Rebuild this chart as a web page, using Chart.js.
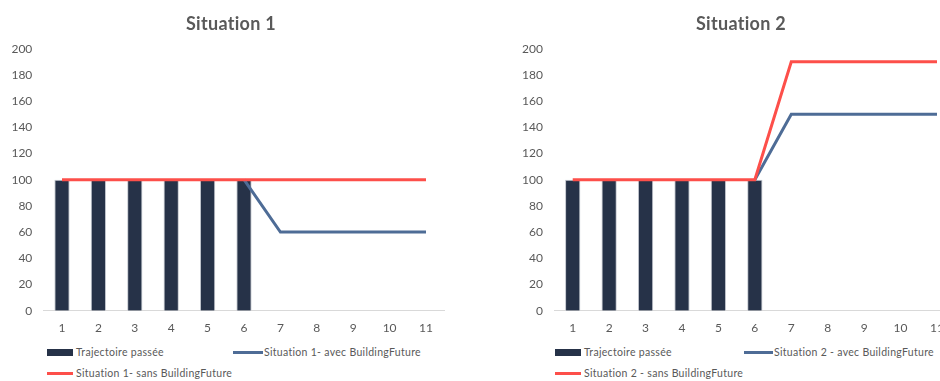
<!DOCTYPE html>
<html>
<head>
<meta charset="utf-8">
<script src="https://cdn.jsdelivr.net/npm/chart.js@4/dist/chart.umd.min.js"></script>
<style>
  html, body { margin:0; padding:0; width:940px; height:381px; overflow:hidden; background:#fff; }
  body { position:relative; font-family: Lato, "Noto Sans", sans-serif; color:#595959; font-variant-ligatures:none; }
  .wrap { position:absolute; top:0; height:340px; }
  .title { position:absolute; top:12px; font-weight:bold; font-size:18px; letter-spacing:0.3px; color:#595959; white-space:nowrap; transform:translateX(-50%); font-variant-ligatures:none; }
  .leg { position:absolute; font-size:10.5px; letter-spacing:0.3px; color:#595959; white-space:nowrap; display:flex; align-items:center; font-variant-ligatures:none; }
  .sw { display:inline-block; width:26px; margin-right:3px; }
</style>
</head>
<body>
<div class="wrap" style="left:0;width:470px;"><canvas id="c1"></canvas></div>
<div class="wrap" style="left:470px;width:500px;"><canvas id="c2"></canvas></div>

<div class="title" style="left:231px;">Situation 1</div>
<div class="title" style="left:741px;">Situation 2</div>

<div class="leg" style="left:47px;top:346px;"><span class="sw" style="height:7px;background:#263248;"></span><span id="l1a"></span></div>
<div class="leg" style="left:233px;top:346px;"><span class="sw" style="height:3px;background:#4e6c96;width:30px;margin-right:1px;"></span><span id="l1b"></span></div>
<div class="leg" style="left:47px;top:367px;"><span class="sw" style="height:3px;background:#fd4f4a;"></span><span id="l1c"></span></div>

<div class="leg" style="left:555px;top:346px;"><span class="sw" style="height:7px;background:#263248;"></span><span id="l2a"></span></div>
<div class="leg" style="left:744px;top:346px;"><span class="sw" style="height:3px;background:#4e6c96;width:29px;margin-right:1px;"></span><span id="l2b"></span></div>
<div class="leg" style="left:555px;top:367px;"><span class="sw" style="height:3px;background:#fd4f4a;"></span><span id="l2c"></span></div>

<script>
const categories = ["1","2","3","4","5","6","7","8","9","10","11"];
const yTicks = [0,20,40,60,80,100,120,140,160,180,200];

const pastLabel = "Trajectoire passée";
const pastValues = [100,100,100,100,100,100,null,null,null,null,null];

const s1WithLabel = "Situation 1- avec BuildingFuture";
const s1WithValues = [null,null,null,null,null,100,60,60,60,60,60];
const s1WithoutLabel = "Situation 1- sans BuildingFuture";
const s1WithoutValues = [100,100,100,100,100,100,100,100,100,100,100];

const s2WithLabel = "Situation 2 - avec BuildingFuture";
const s2WithValues = [null,null,null,null,null,100,150,150,150,150,150];
const s2WithoutLabel = "Situation 2 - sans BuildingFuture";
const s2WithoutValues = [100,100,100,100,100,100,190,190,190,190,190];

document.getElementById('l1a').textContent = pastLabel;
document.getElementById('l1b').textContent = s1WithLabel;
document.getElementById('l1c').textContent = s1WithoutLabel;
document.getElementById('l2a').textContent = pastLabel;
document.getElementById('l2b').textContent = s2WithLabel;
document.getElementById('l2c').textContent = s2WithoutLabel;

const FONT = "Lato, 'Noto Sans', sans-serif";

function makeChart(id, withLabel, withVals, withoutLabel, withoutVals, yWidth, rightPad) {
  const ctx = document.getElementById(id);
  return new Chart(ctx, {
    data: {
      labels: categories,
      datasets: [
        { type:'line', label: withoutLabel, data: withoutVals, borderColor:'#fd4f4a', borderWidth:3, pointRadius:0, tension:0, order:0 },
        { type:'line', label: withLabel, data: withVals, borderColor:'#4e6c96', borderWidth:3, pointRadius:0, tension:0, order:1 },
        { type:'bar', label: pastLabel, data: pastValues, backgroundColor:'#263248', borderColor:'#c3c7cf', borderWidth:1, barPercentage:0.42, categoryPercentage:1, order:2 }
      ]
    },
    options: {
      responsive:true, maintainAspectRatio:false, animation:false,
      layout: { padding: { left:0, right:rightPad, top:48.7, bottom:0 } },
      plugins: { legend:{display:false}, title:{display:false}, tooltip:{enabled:false} },
      scales: {
        x: {
          offset:true,
          grid:{ display:false, drawTicks:false },
          border:{ display:true, color:'#d9d9d9', width:1 },
          ticks:{ color:'#595959', font:{ family:FONT, size:12 }, padding:10, maxRotation:0, autoSkip:false },
          afterFit(scale){ scale.height = 29.3; }
        },
        y: {
          min:0, max:200,
          afterBuildTicks(scale){ scale.ticks = yTicks.map(v => ({value:v})); },
          grid:{ display:false, drawTicks:false },
          border:{ display:false },
          ticks:{ color:'#595959', font:{ family:FONT, size:12 }, padding:11.5 },
          afterFit(scale){ scale.width = yWidth; }
        }
      }
    }
  });
}

makeChart('c1', s1WithLabel, s1WithValues, s1WithoutLabel, s1WithoutValues, 43.8, 25.8);
makeChart('c2', s2WithLabel, s2WithValues, s2WithoutLabel, s2WithoutValues, 84.5, 14.8);
</script>
</body>
</html>
